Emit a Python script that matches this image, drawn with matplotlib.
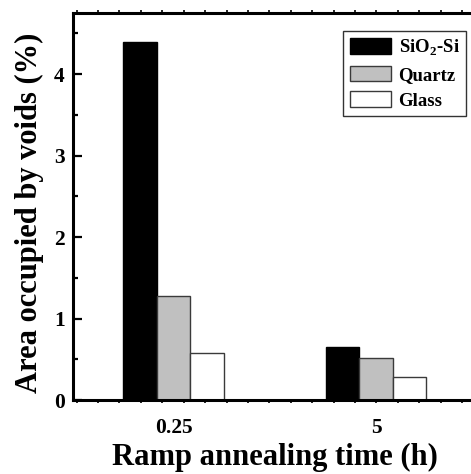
import numpy as np
import matplotlib
matplotlib.use('Agg')
import matplotlib.pyplot as plt
from matplotlib.ticker import FixedLocator, MultipleLocator

plt.rcParams['font.family'] = ['Liberation Serif', 'DejaVu Serif']
plt.rcParams['font.weight'] = 'bold'
plt.rcParams['mathtext.fontset'] = 'custom'
plt.rcParams['mathtext.rm'] = 'Liberation Serif:bold'
plt.rcParams['mathtext.bf'] = 'Liberation Serif:bold'

categories = ['0.25', '5']
substrates = [r'SiO$_{\mathbf{2}}$-Si', 'Quartz', 'Glass']
sio2_si = [4.40, 0.65]
quartz = [1.28, 0.51]
glass = [0.58, 0.28]

values = [sio2_si, quartz, glass]
fills = ['#000000', '#c0c0c0', '#ffffff']
edges = ['#000000', '#3a3a3a', '#3a3a3a']

fig = plt.figure(figsize=(4.71, 4.74), dpi=100)
ax = fig.add_axes([0.155, 0.1561, 0.845, 0.8165])

x = np.arange(len(categories))
w = 0.166
for i, (vals, fc, ec, lab) in enumerate(zip(values, fills, edges, substrates)):
    ax.bar(x + (i - 1) * w, vals, width=w, color=fc, edgecolor=ec,
           linewidth=1.0, label=lab)

ax.set_xlim(-0.496, 1.469)
ax.set_ylim(0, 4.75)

ax.set_xticks(x)
ax.set_xticklabels(categories)
ax.xaxis.set_minor_locator(FixedLocator(np.arange(-0.478, 1.47, 0.1057)))
ax.yaxis.set_major_locator(MultipleLocator(1))
ax.yaxis.set_minor_locator(MultipleLocator(0.5))

ax.tick_params(axis='x', which='major', length=0, pad=13, labelsize=15.5)
ax.tick_params(axis='x', which='minor', direction='out', length=2,
               width=1.2, top=True)
ax.tick_params(axis='y', which='major', direction='in', length=6.5,
               width=1.6, pad=6, labelsize=15.5)
ax.tick_params(axis='y', which='minor', direction='in', length=3.4,
               width=1.6)

for s in ['left', 'bottom', 'top']:
    ax.spines[s].set_linewidth(2.2)
ax.spines['right'].set_visible(False)

ax.set_xlabel('Ramp annealing time (h)', fontsize=22, fontweight='bold')
ax.set_ylabel('Area occupied by voids (%)', fontsize=22, fontweight='bold')
ax.xaxis.set_label_coords(0.5075, -0.112)
ax.yaxis.set_label_coords(-0.073, 0.4845)

leg = ax.legend(loc='upper right', bbox_to_anchor=(0.988, 0.953),
                fontsize=13.5, frameon=True, fancybox=False,
                edgecolor='black', handlelength=2.2, handleheight=0.9,
                labelspacing=0.4, handletextpad=0.4, borderpad=0.35,
                borderaxespad=0)
leg.get_frame().set_linewidth(1.0)
for t in leg.get_texts():
    t.set_fontweight('bold')

fig.savefig('out.png', dpi=100)
